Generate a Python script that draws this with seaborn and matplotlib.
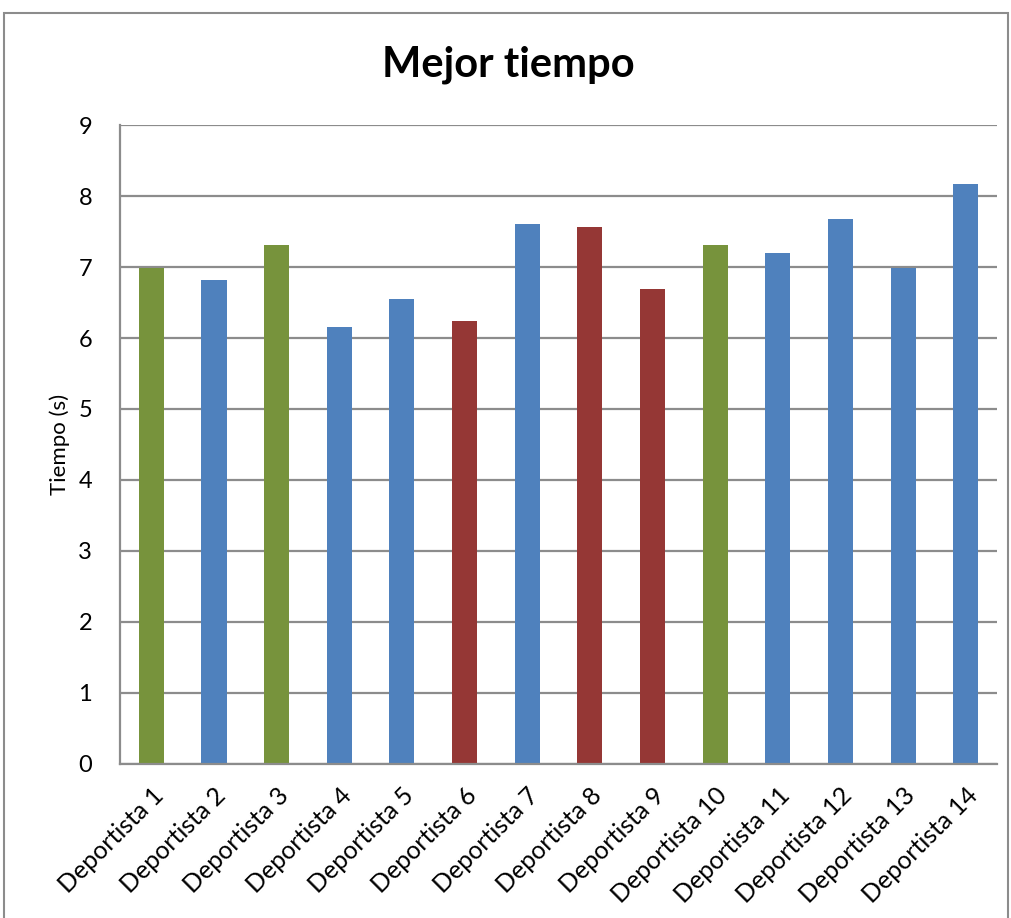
import matplotlib
matplotlib.use("Agg")
import matplotlib.pyplot as plt
import seaborn as sns
import pandas as pd
from matplotlib.patches import Rectangle

deportistas = [f"Deportista {i}" for i in range(1, 15)]
tiempos = [6.98, 6.82, 7.31, 6.16, 6.55, 6.24, 7.60, 7.57, 6.69, 7.31, 7.20, 7.67, 6.99, 8.17]
grupos = ["verde", "azul", "verde", "azul", "azul", "rojo", "azul",
          "rojo", "rojo", "verde", "azul", "azul", "azul", "azul"]
yticks = list(range(0, 10))

df = pd.DataFrame({"Deportista": deportistas, "Tiempo": tiempos, "Grupo": grupos})
palette = {"verde": "#77933C", "azul": "#4F81BD", "rojo": "#953735"}

sns.set_style("white")
plt.rcParams["font.family"] = ["Lato", "DejaVu Sans"]
plt.rcParams["text.color"] = "black"
plt.rcParams["xtick.color"] = "black"
plt.rcParams["ytick.color"] = "black"
plt.rcParams["axes.labelcolor"] = "black"

fig = plt.figure(figsize=(10.11, 9.18), dpi=100)
ax = fig.add_axes([0.1187, 0.1678, 0.8676, 0.696])

sns.barplot(data=df, x="Deportista", y="Tiempo", hue="Grupo", palette=palette,
            dodge=False, width=0.4, legend=False, ax=ax, saturation=1,
            edgecolor="none")

ax.set_ylim(0, 9)
ax.set_xlim(-0.5, 13.5)
ax.set_yticks(yticks)
ax.yaxis.grid(True, color="#8c8c8c", linewidth=1.6)
ax.set_axisbelow(True)
for s in ["top", "right"]:
    ax.spines[s].set_visible(False)
for s in ["left", "bottom"]:
    ax.spines[s].set_color("#8c8c8c")
    ax.spines[s].set_linewidth(1.6)

ax.tick_params(axis="y", labelsize=17, length=0, pad=20)
ax.tick_params(axis="x", labelsize=18, length=0, pad=14)
ax.set_xticks(range(len(deportistas)))
ax.set_xticklabels(deportistas, rotation=45, ha="right", rotation_mode="anchor")
ax.set_xlabel("")
ax.set_ylabel("Tiempo (s)", fontsize=16, labelpad=6)

fig.text(0.503, 0.929, "Mejor tiempo", ha="center", va="center",
         fontsize=30, fontweight="bold", color="black")

fig.patches.append(Rectangle((4 / 1011, -0.01), 1004 / 1011, 1 - 13 / 918 + 0.01,
                             transform=fig.transFigure, fill=False,
                             edgecolor="#8c8c8c", linewidth=1.5))

fig.savefig("out.png", dpi=100, facecolor="white")
